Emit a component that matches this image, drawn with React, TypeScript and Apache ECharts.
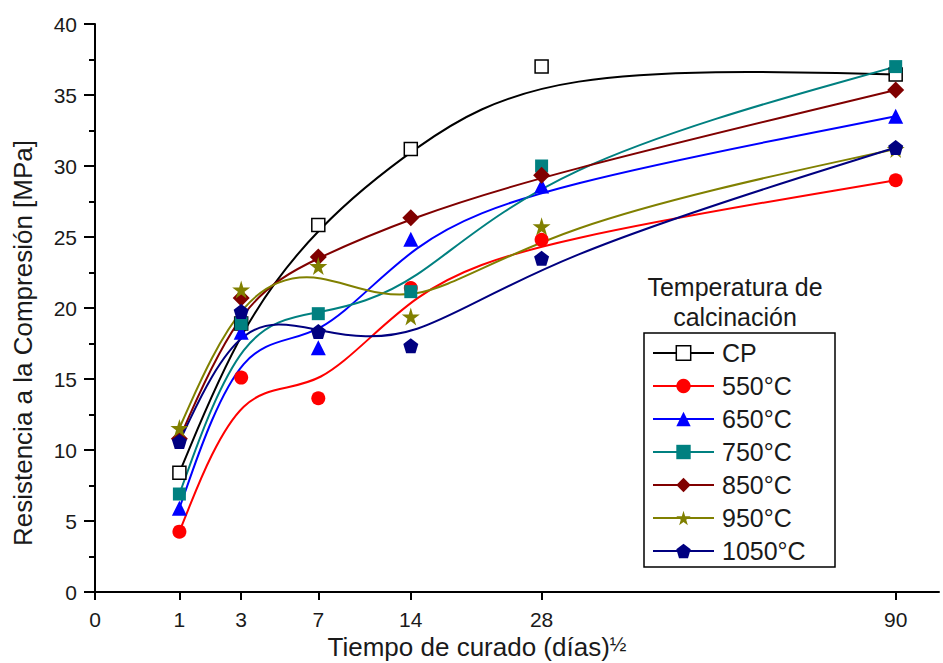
import React, { useEffect, useRef } from "react";
import * as echarts from "echarts";

// Curing time in days (the x axis is the square root of days)
const curingDays = [1, 3, 7, 14, 28, 90];
const xTickDays = [0, 1, 3, 7, 14, 28, 90];

// Compressive strength [MPa]
const cpValues = [8.4, 18.9, 25.85, 31.2, 37.0, 36.45];
const t550Values = [4.25, 15.1, 13.64, 21.4, 24.8, 29.0];
const t650Values = [5.9, 18.3, 17.2, 24.85, 28.6, 33.5];
const t750Values = [6.9, 18.9, 19.6, 21.15, 30.0, 37.0];
const t850Values = [10.8, 20.7, 23.6, 26.35, 29.35, 35.35];
const t950Values = [11.55, 21.3, 22.95, 19.4, 25.75, 31.2];
const t1050Values = [10.6, 19.75, 18.35, 17.35, 23.5, 31.3];

const seriesNames = ["CP", "550°C", "650°C", "750°C", "850°C", "950°C", "1050°C"];
const seriesValues = [cpValues, t550Values, t650Values, t750Values, t850Values, t950Values, t1050Values];

const STAR = "path://M50,0 L61,35 L98,35 L68,57 L79,91 L50,70 L21,91 L32,57 L2,35 L39,35 Z";
const PENTAGON = "path://M50,0 L98,36 L80,94 L20,94 L2,36 Z";

const styles = [
  { color: "#000000", symbol: "rect", size: 13, fill: "#ffffff" },
  { color: "#ff0000", symbol: "circle", size: 14, fill: "#ff0000" },
  { color: "#0000ff", symbol: "triangle", size: 15, fill: "#0000ff" },
  { color: "#008080", symbol: "rect", size: 13, fill: "#008080" },
  { color: "#800000", symbol: "diamond", size: 17, fill: "#800000" },
  { color: "#808000", symbol: STAR, size: 18, fill: "#808000" },
  { color: "#000080", symbol: PENTAGON, size: 15, fill: "#000080" },
];

function bsplinePath(pts: number[][]): string {
  const n = pts.length;
  const q = [pts[0], pts[0], ...pts, pts[n - 1], pts[n - 1]];
  let d = "";
  for (let i = 0; i + 3 < q.length; i++) {
    const [a, b, c, e] = [q[i], q[i + 1], q[i + 2], q[i + 3]];
    const s = [(a[0] + 4 * b[0] + c[0]) / 6, (a[1] + 4 * b[1] + c[1]) / 6];
    const c1 = [(2 * b[0] + c[0]) / 3, (2 * b[1] + c[1]) / 3];
    const c2 = [(b[0] + 2 * c[0]) / 3, (b[1] + 2 * c[1]) / 3];
    const t = [(b[0] + 4 * c[0] + e[0]) / 6, (b[1] + 4 * c[1] + e[1]) / 6];
    if (i === 0) d += `M${s[0]},${s[1]}`;
    d += ` C${c1[0]},${c1[1]} ${c2[0]},${c2[1]} ${t[0]},${t[1]}`;
  }
  return d;
}

const FONT = "Liberation Sans, Arial, sans-serif";

export default function App() {
  const ref = useRef<HTMLDivElement>(null);
  useEffect(() => {
    if (!ref.current) return;
    const chart = echarts.init(ref.current, undefined, { renderer: "svg" });

    const curveSeries = seriesNames.map((name, k) => {
      const ys = seriesValues[k];
      return {
        type: "custom",
        name: name + " curve",
        silent: true,
        z: 1,
        encode: { x: 0, y: 1 },
        data: curingDays.map((d, i) => [Math.sqrt(d), ys[i]]),
        renderItem: (params: any, api: any) => {
          if (params.dataIndex !== 0) return null;
          const pts = curingDays.map((d, i) => api.coord([Math.sqrt(d), ys[i]]));
          return {
            type: "path",
            shape: { pathData: bsplinePath(pts) },
            style: { fill: "none", stroke: styles[k].color, lineWidth: 2 },
          };
        },
      };
    });

    const markerSeries = seriesNames.map((name, k) => ({
      type: "line",
      name,
      z: 3,
      data: curingDays.map((d, i) => [Math.sqrt(d), seriesValues[k][i]]),
      symbol: styles[k].symbol,
      symbolSize: styles[k].size,
      showAllSymbol: true,
      lineStyle: { width: 0, opacity: 0 },
      itemStyle:
        k === 0
          ? { color: "#ffffff", borderColor: "#000000", borderWidth: 1.5 }
          : { color: styles[k].fill, borderWidth: 0 },
    }));

    chart.setOption({
      animation: false,
      backgroundColor: "#ffffff",
      grid: { left: 95, right: 4, top: 24, bottom: 71 },
      xAxis: {
        type: "value",
        min: 0,
        max: 10,
        splitLine: { show: false },
        axisLine: { show: true, onZero: false, lineStyle: { color: "#000", width: 2 } },
        axisTick: {
          show: true,
          length: 8,
          lineStyle: { color: "#000", width: 2 },
          customValues: xTickDays.map((d) => Math.sqrt(d)),
        },
        axisLabel: {
          show: true,
          margin: 17,
          fontSize: 21,
          color: "#1a1a1a",
          fontFamily: FONT,
          customValues: xTickDays.map((d) => Math.sqrt(d)),
          formatter: (v: number) => String(Math.round(v * v)),
        },
      },
      yAxis: {
        type: "value",
        min: 0,
        max: 40,
        interval: 5,
        splitLine: { show: false },
        axisLine: { show: true, lineStyle: { color: "#000", width: 2 } },
        axisTick: { show: true, length: 11, lineStyle: { color: "#000", width: 2 } },
        minorTick: { show: true, splitNumber: 2, length: 6, lineStyle: { color: "#000", width: 2 } },
        axisLabel: {
          margin: 18,
          fontSize: 21,
          color: "#1a1a1a",
          fontFamily: FONT,
        },
      },
      legend: {
        orient: "vertical",
        left: 652,
        top: 340,
        padding: 0,
        itemWidth: 61,
        itemHeight: 18,
        itemGap: 7,
        selectedMode: false,
        textStyle: {
          fontSize: 25,
          lineHeight: 26,
          color: "#1a1a1a",
          fontFamily: FONT,
          padding: [0, 0, 0, 3],
        },
        data: seriesNames.map((name, k) => ({
          name,
          lineStyle: { color: styles[k].color, width: 2, opacity: 1 },
          itemStyle:
            k === 0
              ? { color: "#ffffff", borderColor: "#000000", borderWidth: 1.5 }
              : { color: styles[k].fill },
        })),
      },
      graphic: [
        {
          type: "rect",
          z: 0,
          shape: { x: 644, y: 333, width: 191, height: 234 },
          style: { fill: "#ffffff", stroke: "#000000", lineWidth: 1.5 },
        },
        {
          type: "text",
          x: 735,
          y: 272,
          style: {
            text: "Temperatura de\ncalcinación",
            align: "center",
            verticalAlign: "top",
            fontSize: 25,
            lineHeight: 30,
            fill: "#1a1a1a",
            fontFamily: FONT,
          },
        },
        {
          type: "text",
          x: 23,
          y: 343,
          rotation: Math.PI / 2,
          style: {
            text: "Resistencia a la Compresión [MPa]",
            align: "center",
            verticalAlign: "middle",
            fontSize: 26,
            fill: "#1a1a1a",
            fontFamily: FONT,
          },
        },
        {
          type: "text",
          x: 477,
          y: 647,
          style: {
            text: "{a|Tiempo de curado (días)}{b|½}",
            align: "center",
            verticalAlign: "middle",
            fill: "#1a1a1a",
            fontFamily: FONT,
            rich: {
              a: { fontSize: 26, fill: "#1a1a1a", fontFamily: FONT },
              b: { fontSize: 20, verticalAlign: "top", fill: "#1a1a1a", fontFamily: FONT },
            },
          },
        },
      ],
      series: [...curveSeries, ...markerSeries],
    });
    return () => chart.dispose();
  }, []);
  return (
    <div
      ref={ref}
      style={{ position: "fixed", left: 0, top: 0, width: 943, height: 663, background: "#fff" }}
    />
  );
}
